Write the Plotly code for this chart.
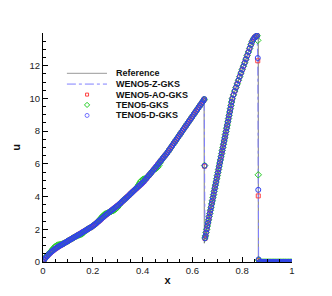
import plotly.graph_objects as go

# ---------------- data ----------------
# cell positions, by segment
X_LEFT = [
    0.000, 0.005, 0.010, 0.015, 0.020, 0.025, 0.030, 0.035, 0.040, 0.045,
    0.050, 0.055, 0.060, 0.065, 0.070, 0.075, 0.080, 0.085, 0.090, 0.095,
    0.100, 0.105, 0.110, 0.115, 0.120, 0.125, 0.130, 0.135, 0.140, 0.145,
    0.150, 0.155, 0.160, 0.165, 0.170, 0.175, 0.180, 0.185, 0.190, 0.195,
    0.200, 0.205, 0.210, 0.215, 0.220, 0.225, 0.230, 0.235, 0.240, 0.245,
    0.250, 0.255, 0.260, 0.265, 0.270, 0.275, 0.280, 0.285, 0.290, 0.295,
    0.300, 0.305, 0.310, 0.315, 0.320, 0.325, 0.330, 0.335, 0.340, 0.345,
    0.350, 0.355, 0.360, 0.365, 0.370, 0.375, 0.380, 0.385, 0.390, 0.395,
    0.400, 0.405, 0.410, 0.415, 0.420, 0.425, 0.430, 0.435, 0.440, 0.445,
    0.450, 0.455, 0.460, 0.465, 0.470, 0.475, 0.480, 0.485, 0.490, 0.495,
    0.500, 0.505, 0.510, 0.515, 0.520, 0.525, 0.530, 0.535, 0.540, 0.545,
    0.550, 0.555, 0.560, 0.565, 0.570, 0.575, 0.580, 0.585, 0.590, 0.595,
    0.600, 0.605, 0.610, 0.615, 0.620, 0.625, 0.630, 0.635, 0.640, 0.645,
]
X_SHOCK1 = [0.6475, 0.649, 0.6505]
X_RISE = [
    0.6525, 0.655, 0.6575, 0.660, 0.6625, 0.665, 0.6675, 0.670, 0.6725, 0.675,
    0.6775, 0.680, 0.6825, 0.685, 0.6875, 0.690, 0.6925, 0.695, 0.6975, 0.700,
    0.7025, 0.705, 0.7075, 0.710, 0.7125, 0.715, 0.7175, 0.720, 0.7225, 0.725,
    0.7275, 0.730, 0.7325, 0.735, 0.7375, 0.740, 0.7425, 0.745, 0.7475, 0.750,
    0.7525, 0.755, 0.7575, 0.760,
    0.765, 0.770, 0.775, 0.780, 0.785, 0.790, 0.795, 0.800, 0.805, 0.810,
    0.815, 0.820, 0.825, 0.830, 0.835, 0.840, 0.845, 0.850, 0.855, 0.860,
]
X_SHOCK2 = [0.8625, 0.8645, 0.866]
X_RIGHT = [
    0.870, 0.875, 0.880, 0.885, 0.890, 0.895, 0.900, 0.905, 0.910, 0.915,
    0.920, 0.925, 0.930, 0.935, 0.940, 0.945, 0.950, 0.955, 0.960, 0.965,
    0.970, 0.975, 0.980, 0.985, 0.990, 0.995, 1.000,
]

# u on the smooth left part (WENO5-AO / TENO5-D / WENO5-Z agree there)
U_LEFT = [
    0.05, 0.15, 0.25, 0.34, 0.42, 0.50, 0.57, 0.64, 0.70, 0.76,
    0.82, 0.87, 0.92, 0.97, 1.01, 1.06, 1.10, 1.15, 1.19, 1.24,
    1.28, 1.33, 1.37, 1.42, 1.46, 1.51, 1.55, 1.60, 1.64, 1.69,
    1.73, 1.78, 1.83, 1.87, 1.92, 1.96, 2.01, 2.06, 2.10, 2.15,
    2.20, 2.26, 2.32, 2.38, 2.45, 2.51, 2.58, 2.65, 2.72, 2.78,
    2.85, 2.91, 2.97, 3.03, 3.09, 3.15, 3.21, 3.27, 3.33, 3.39,
    3.45, 3.51, 3.58, 3.65, 3.72, 3.79, 3.86, 3.93, 4.00, 4.07,
    4.15, 4.22, 4.29, 4.36, 4.43, 4.50, 4.57, 4.64, 4.71, 4.78,
    4.85, 4.93, 5.02, 5.11, 5.20, 5.29, 5.38, 5.47, 5.56, 5.65,
    5.75, 5.84, 5.94, 6.03, 6.13, 6.22, 6.32, 6.41, 6.51, 6.60,
    6.70, 6.81, 6.92, 7.03, 7.14, 7.25, 7.36, 7.47, 7.58, 7.69,
    7.80, 7.91, 8.02, 8.13, 8.24, 8.35, 8.46, 8.57, 8.68, 8.79,
    8.90, 9.01, 9.12, 9.23, 9.34, 9.45, 9.56, 9.67, 9.78, 9.88,
]
# TENO5-GKS shows small wiggles on the left part
U_LEFT_TENO5 = [
    0.05, 0.16, 0.27, 0.37, 0.45, 0.53, 0.62, 0.71, 0.80, 0.89,
    0.96, 1.01, 1.04, 1.06, 1.07, 1.09, 1.11, 1.15, 1.19, 1.24,
    1.28, 1.33, 1.37, 1.42, 1.46, 1.51, 1.55, 1.59, 1.62, 1.65,
    1.67, 1.71, 1.76, 1.83, 1.92, 1.96, 2.01, 2.06, 2.10, 2.15,
    2.20, 2.26, 2.32, 2.39, 2.47, 2.55, 2.64, 2.73, 2.81, 2.88,
    2.94, 2.97, 3.00, 3.04, 3.07, 3.10, 3.13, 3.17, 3.22, 3.28,
    3.36, 3.46, 3.58, 3.65, 3.72, 3.79, 3.86, 3.93, 4.00, 4.07,
    4.15, 4.22, 4.29, 4.36, 4.43, 4.51, 4.62, 4.74, 4.87, 4.97,
    5.04, 5.07, 5.10, 5.14, 5.20, 5.29, 5.38, 5.47, 5.56, 5.63,
    5.68, 5.73, 5.80, 5.90, 6.06, 6.20, 6.32, 6.41, 6.51, 6.60,
    6.70, 6.81, 6.92, 7.03, 7.14, 7.25, 7.36, 7.47, 7.58, 7.69,
    7.80, 7.91, 8.02, 8.13, 8.24, 8.35, 8.46, 8.57, 8.68, 8.79,
    8.90, 9.01, 9.12, 9.23, 9.34, 9.45, 9.56, 9.67, 9.78, 9.88,
]
# u on the rise between the two shocks
U_RISE = [
    1.60, 1.80, 2.00, 2.20, 2.39, 2.58, 2.78, 2.97, 3.16, 3.35,
    3.55, 3.74, 3.93, 4.12, 4.32, 4.51, 4.70, 4.89, 5.09, 5.28,
    5.47, 5.66, 5.86, 6.05, 6.24, 6.43, 6.63, 6.82, 7.01, 7.20,
    7.40, 7.59, 7.79, 7.98, 8.18, 8.37, 8.57, 8.77, 8.97, 9.17,
    9.37, 9.57, 9.78, 9.98,
    10.22, 10.45, 10.67, 10.89, 11.11, 11.33, 11.55, 11.76, 11.97, 12.18,
    12.40, 12.62, 12.84, 13.06, 13.28, 13.48, 13.63, 13.73, 13.80, 13.83,
]
U_RIGHT = [0.0] * len(X_RIGHT)

# values captured inside the two shocks, per scheme
SHOCK1_WENO5_Z = [9.96, 5.88, 1.45]
SHOCK1_WENO5_AO = [9.95, 5.86, 1.44]
SHOCK1_TENO5 = [9.95, 5.90, 1.47]
SHOCK1_TENO5_D = [9.96, 5.88, 1.45]
SHOCK2_WENO5_Z = [12.40, 4.30, 0.10]
SHOCK2_WENO5_AO = [12.30, 4.04, 0.08]
SHOCK2_TENO5 = [13.55, 5.33, 0.12]
SHOCK2_TENO5_D = [12.47, 4.41, 0.16]

# exact (reference) solution
X_REF = [0.0, 0.05, 0.10, 0.15, 0.20, 0.25, 0.30, 0.35, 0.40, 0.45, 0.50,
         0.55, 0.60, 0.647, 0.6478, 0.66, 0.70, 0.73, 0.76, 0.80, 0.84,
         0.86, 0.8645, 0.8648, 1.0]
U_REF = [0.0, 0.82, 1.28, 1.73, 2.20, 2.85, 3.45, 4.15, 4.85, 5.75, 6.70,
         7.80, 8.90, 9.96, 1.15, 2.20, 5.28, 7.59, 9.98, 11.76, 13.48,
         13.83, 13.85, 0.0, 0.0]

LEGEND_NAMES = ["Reference", "WENO5-Z-GKS", "WENO5-AO-GKS", "TENO5-GKS", "TENO5-D-GKS"]

X_TICKS = [0, 0.2, 0.4, 0.6, 0.8, 1]
X_TICK_TEXT = ["0", "0.2", "0.4", "0.6", "0.8", "1"]
Y_TICKS = [0, 2, 4, 6, 8, 10, 12]

# ---------------- assemble series ----------------
X_ALL = X_LEFT + X_SHOCK1 + X_RISE + X_SHOCK2 + X_RIGHT
U_WENO5_Z = U_LEFT + SHOCK1_WENO5_Z + U_RISE + SHOCK2_WENO5_Z + U_RIGHT
U_WENO5_AO = U_LEFT + SHOCK1_WENO5_AO + U_RISE + SHOCK2_WENO5_AO + U_RIGHT
U_TENO5 = U_LEFT_TENO5 + SHOCK1_TENO5 + U_RISE + SHOCK2_TENO5 + U_RIGHT
U_TENO5_D = U_LEFT + SHOCK1_TENO5_D + U_RISE + SHOCK2_TENO5_D + U_RIGHT

# ---------------- styles ----------------
C_REF = "#7a7a7a"
C_Z = "#8080ff"
C_AO = "#ff4040"
C_T = "#22cc22"
C_TD = "#3040f0"
FONT = "Liberation Sans, Arial, Helvetica, sans-serif"

fig = go.Figure()

fig.add_trace(go.Scatter(x=X_REF, y=U_REF, mode="lines", name=LEGEND_NAMES[0],
                         line=dict(color=C_REF, width=1), showlegend=False))
fig.add_trace(go.Scatter(x=X_ALL, y=U_WENO5_Z, mode="lines", name=LEGEND_NAMES[1],
                         line=dict(color=C_Z, width=1, dash="dashdot"), showlegend=False))
fig.add_trace(go.Scatter(x=X_ALL, y=U_WENO5_AO, mode="markers", name=LEGEND_NAMES[2],
                         marker=dict(symbol="square-open", size=4, color=C_AO,
                                     line=dict(width=1, color=C_AO)), showlegend=False))
fig.add_trace(go.Scatter(x=X_ALL, y=U_TENO5, mode="markers", name=LEGEND_NAMES[3],
                         marker=dict(symbol="diamond-open", size=5, color=C_T,
                                     line=dict(width=1, color=C_T)), showlegend=False))
fig.add_trace(go.Scatter(x=X_ALL, y=U_TENO5_D, mode="markers", name=LEGEND_NAMES[4],
                         marker=dict(symbol="circle-open", size=5, color=C_TD,
                                     line=dict(width=1, color=C_TD)), showlegend=False))

# ---------------- compact legend drawn on an overlay axis pair ----------------
LEG_ROWS = [0.824, 0.777, 0.731, 0.686, 0.640]
LX0, LX1, LXM, LXT = 0.096, 0.257, 0.177, 0.285
fig.add_trace(go.Scatter(x=[LX0, LX1], y=[LEG_ROWS[0]] * 2, mode="lines",
                         line=dict(color="#999999", width=1), xaxis="x2", yaxis="y2",
                         showlegend=False, hoverinfo="skip"))
fig.add_trace(go.Scatter(x=[LX0, LX1], y=[LEG_ROWS[1]] * 2, mode="lines",
                         line=dict(color=C_Z, width=1, dash="dashdot"), xaxis="x2", yaxis="y2",
                         showlegend=False, hoverinfo="skip"))
fig.add_trace(go.Scatter(x=[LXM], y=[LEG_ROWS[2]], mode="markers",
                         marker=dict(symbol="square-open", size=3, color=C_AO, line=dict(width=1, color=C_AO)),
                         xaxis="x2", yaxis="y2", showlegend=False, hoverinfo="skip"))
fig.add_trace(go.Scatter(x=[LXM], y=[LEG_ROWS[3]], mode="markers",
                         marker=dict(symbol="diamond-open", size=4, color=C_T, line=dict(width=1, color=C_T)),
                         xaxis="x2", yaxis="y2", showlegend=False, hoverinfo="skip"))
fig.add_trace(go.Scatter(x=[LXM], y=[LEG_ROWS[4]], mode="markers",
                         marker=dict(symbol="circle-open", size=4, color="#7070ff", line=dict(width=1, color="#7070ff")),
                         xaxis="x2", yaxis="y2", showlegend=False, hoverinfo="skip"))

annotations = []
for name, yy in zip(LEGEND_NAMES, LEG_ROWS):
    annotations.append(dict(x=LXT, y=yy, xref="x2", yref="y2", text="<b>" + name + "</b>",
                            showarrow=False, xanchor="left", yanchor="middle",
                            font=dict(family=FONT, size=9, color="#111")))

axis_common = dict(showline=True, linecolor="black", linewidth=1, mirror=False,
                   showgrid=False, zeroline=False, ticks="inside", ticklen=5,
                   tickcolor="black", tickwidth=1, automargin=False,
                   tickfont=dict(family=FONT, size=9.5, color="#222"))

# the page body adds an 8 px offset; the figure is sized to fit the 332x296 window
fig.update_layout(
    width=324, height=288,
    margin=dict(l=35, r=40, t=25, b=34),
    paper_bgcolor="white", plot_bgcolor="white",
    showlegend=False,
    annotations=annotations,
    xaxis=dict(range=[0, 1], tickvals=X_TICKS, ticktext=X_TICK_TEXT,
               minor=dict(dtick=0.05, ticks="inside", ticklen=3, tickcolor="black"),
               title=dict(text="<b>x</b>", font=dict(family=FONT, size=11, color="#111"), standoff=0),
               **axis_common),
    yaxis=dict(range=[0, 14], tickvals=Y_TICKS,
               minor=dict(dtick=0.5, ticks="inside", ticklen=3, tickcolor="black"),
               title=dict(text="<b>u</b>", font=dict(family=FONT, size=11, color="#111"), standoff=6),
               **axis_common),
    xaxis2=dict(range=[0, 1], overlaying="x", visible=False, fixedrange=True),
    yaxis2=dict(range=[0, 1], overlaying="y", visible=False, fixedrange=True),
)

fig.write_html("out.html")
